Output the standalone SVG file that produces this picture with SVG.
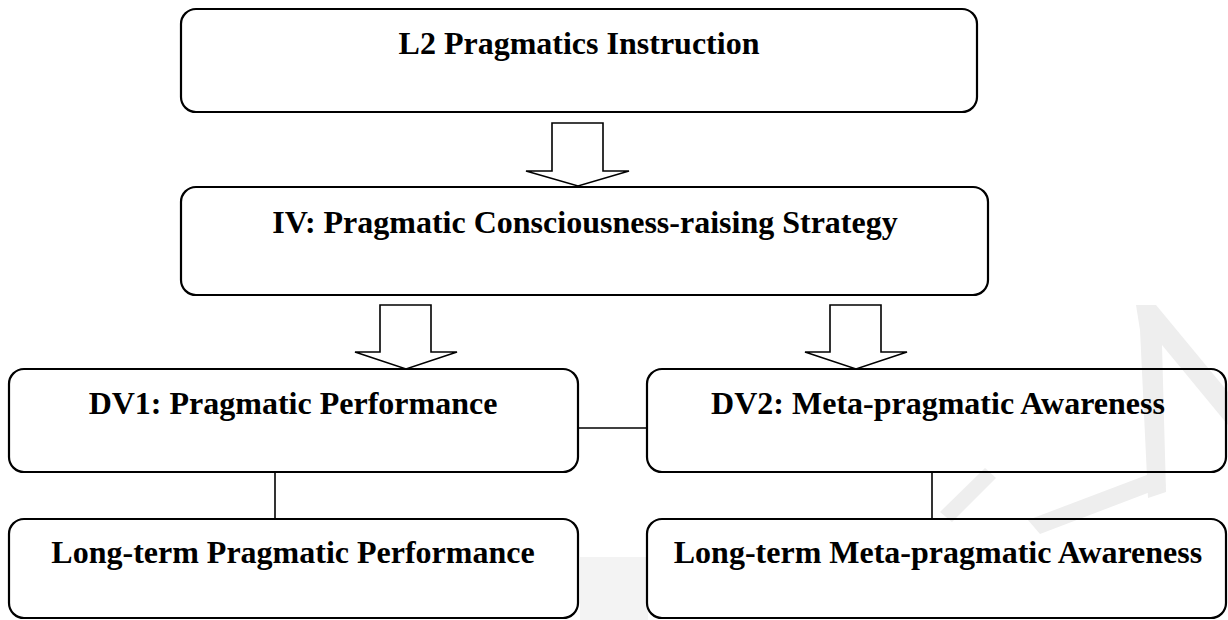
<svg xmlns="http://www.w3.org/2000/svg" width="1228" height="620" viewBox="0 0 1228 620">
<style>
.box{fill:none;stroke:#000;stroke-width:2.2}
.lbl{font-family:"Liberation Serif","Times New Roman",serif;font-weight:bold;font-size:32px;fill:#000;text-anchor:middle}
.arr{fill:#fff;stroke:#000;stroke-width:1.6;stroke-linejoin:miter}
.con{fill:none;stroke:#000;stroke-width:1.6}
.wm{fill:#eeeeee;stroke:none}
.wm2{fill:#f3f3f3;stroke:none}
</style>
<rect width="1228" height="620" fill="#fff"/>
<g id="watermark">
<polygon class="wm" points="1136,305 1156,305 1228,392 1228,425 1162,345 1166,492 1148,498 1140,330"/>
<polygon class="wm" points="940,512 985,468 996,478 952,522"/>
<polygon class="wm" points="1028,520 1160,470 1166,486 1040,534"/>
<polygon class="wm2" points="580,557 648,557 648,620 580,620"/>
</g>
<g id="connectors">
<polygon class="arr" points="552,123 603,123 603,171 629,171 578,186 526,171 552,171"/>
<polygon class="arr" points="380,305 431,305 431,352 457,352 406,369 355,352 380,352"/>
<polygon class="arr" points="830,305 881,305 881,352 907,352 856,369 805,352 830,352"/>
<line class="con" x1="578" y1="428" x2="647" y2="428"/>
<line class="con" x1="275" y1="472" x2="275" y2="519"/>
<line class="con" x1="932" y1="472" x2="932" y2="519"/>
</g>
<g id="node-l2">
<rect class="box" x="181" y="9" width="796" height="103" rx="15"/>
<text class="lbl" x="579" y="54">L2 Pragmatics Instruction</text>
</g>
<g id="node-iv">
<rect class="box" x="181" y="187" width="807" height="108" rx="15"/>
<text class="lbl" x="585" y="233">IV: Pragmatic Consciousness-raising Strategy</text>
</g>
<g id="node-dv1">
<rect class="box" x="9" y="369" width="569" height="103" rx="15"/>
<text class="lbl" x="293" y="414">DV1: Pragmatic Performance</text>
</g>
<g id="node-dv2">
<rect class="box" x="647" y="369" width="579" height="103" rx="15"/>
<text class="lbl" x="938" y="414">DV2: Meta-pragmatic Awareness</text>
</g>
<g id="node-lt1">
<rect class="box" x="9" y="519" width="569" height="99" rx="15"/>
<text class="lbl" x="293" y="563">Long-term Pragmatic Performance</text>
</g>
<g id="node-lt2">
<rect class="box" x="647" y="519" width="579" height="99" rx="15"/>
<text class="lbl" x="938" y="563">Long-term Meta-pragmatic Awareness</text>
</g>
</svg>
